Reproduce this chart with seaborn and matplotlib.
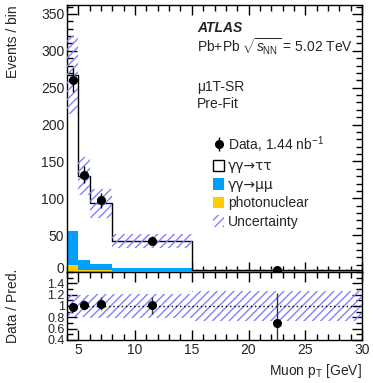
import numpy as np
import pandas as pd
import matplotlib
matplotlib.use("Agg")
import matplotlib.pyplot as plt
from matplotlib.patches import Patch
from matplotlib.ticker import MultipleLocator, FixedLocator
from matplotlib.transforms import ScaledTranslation
import seaborn as sns

# ---- data ----
bin_edges = [4, 5, 6, 8, 15, 30]
bin_centers = [4.5, 5.5, 7.0, 11.5, 22.5]
tautau = [212.0, 114.0, 82.0, 36.5, 1.0]
mumu = [45.0, 13.0, 8.0, 3.5, 0.5]
photonuclear = [10.0, 3.0, 3.0, 2.0, 1.5]
rel_unc = [0.20, 0.20, 0.21, 0.22, 0.26]
data_vals = [260.0, 132.0, 97.0, 42.5, 2.1]
data_errs = [16.0, 11.5, 10.0, 6.5, 1.6]

sns.set_theme(style="ticks")
plt.rcParams['font.family'] = ['Liberation Sans', 'DejaVu Sans']
plt.rcParams['mathtext.fontset'] = 'custom'
plt.rcParams['mathtext.rm'] = 'Liberation Sans'
plt.rcParams['mathtext.it'] = 'Liberation Sans:italic'
plt.rcParams['mathtext.bf'] = 'Liberation Sans:bold'
plt.rcParams['hatch.linewidth'] = 1.0
plt.rcParams['hatch.color'] = '#8080ff'
FS = 10

col_mumu = '#00a0ff'
col_pn = '#ffcc00'
col_hatch = '#8080ff'

edges = np.array(bin_edges, float)
total = np.array(tautau) + np.array(mumu) + np.array(photonuclear)
lo = total * (1 - np.array(rel_unc))
hi = total * (1 + np.array(rel_unc))

rows = []
for name, vals in [("tautau", tautau), ("mumu", mumu), ("pn", photonuclear)]:
    for c, v in zip(bin_centers, vals):
        rows.append({"pt": c, "w": v, "process": name})
df = pd.DataFrame(rows)

fig = plt.figure(figsize=(3.73, 3.83), dpi=100)
ax = fig.add_axes([0.1796, 0.2898, 0.791, 0.697])
rax = fig.add_axes([0.1796, 0.1123, 0.791, 0.1775], sharex=ax)

sns.histplot(data=df, x="pt", weights="w", hue="process",
             hue_order=["tautau", "mumu", "pn"], bins=list(bin_edges),
             multiple="stack", element="bars", shrink=1,
             palette={"tautau": "white", "mumu": col_mumu, "pn": col_pn},
             linewidth=0, alpha=1, legend=False, ax=ax)
sns.histplot(x=bin_centers, weights=list(total), bins=list(bin_edges), element="step",
             fill=False, color="black", linewidth=1.0, ax=ax)

ax.fill_between(edges, np.append(lo, lo[-1]), np.append(hi, hi[-1]),
                step="post", facecolor="none", edgecolor=col_hatch,
                hatch="////", linewidth=0, zorder=4)
eb = ax.errorbar(bin_centers, data_vals, yerr=data_errs, fmt='o', color='black',
                 markersize=5.5, elinewidth=1.0, capsize=0, zorder=5)

# ratio
ratio = np.array(data_vals) / total
ratio_err = np.array(data_errs) / total
rel = np.array(rel_unc)
rax.fill_between(edges, np.append(1 - rel, 1 - rel[-1]), np.append(1 + rel, 1 + rel[-1]),
                 step="post", facecolor="none", edgecolor=col_hatch,
                 hatch="////", linewidth=0, zorder=2)
rax.axhline(1.0, color='black', linestyle=(0, (1, 2)), linewidth=1.0, zorder=3)
rax.errorbar(bin_centers, ratio, yerr=ratio_err, fmt='o', color='black',
             ecolor='#333333', markersize=5.5, elinewidth=1.0, capsize=0, zorder=5)

ax.set_xlim(4, 30)
ax.set_ylim(0, 362)
rax.set_ylim(0.4, 1.6)

for a in (ax, rax):
    a.tick_params(which='both', direction='in', top=True, right=True,
                  labelsize=FS, color='black', width=1.0, pad=2)
    a.tick_params(which='major', length=7)
    a.tick_params(which='minor', length=4)
    for s in a.spines.values():
        s.set_linewidth(1.0)
        s.set_color('black')
    a.xaxis.set_major_locator(MultipleLocator(5))
    a.xaxis.set_minor_locator(MultipleLocator(1))
ax.yaxis.set_major_locator(FixedLocator([0, 50, 100, 150, 200, 250, 300, 350]))
ax.yaxis.set_minor_locator(MultipleLocator(10))
rax.yaxis.set_minor_locator(MultipleLocator(0.1))
rax.set_yticks([0.4, 0.6, 0.8, 1.0, 1.2, 1.4])
rax.set_yticklabels(["0.4", "0.6", "0.8", "1", "1.2", "1.4"])
rax.tick_params(axis='y', labelsize=9, pad=1.5)
plt.setp(ax.get_xticklabels(), visible=False)

# nudge the touching "0" label up a little
lab0 = ax.yaxis.get_major_ticks()[0].label1
lab0.set_transform(lab0.get_transform() + ScaledTranslation(0, 3.0 / 72, fig.dpi_scale_trans))

ax.set_xlabel("")
ax.set_ylabel("Events / bin", fontsize=FS, loc='top')
rax.set_ylabel("Data / Pred.", fontsize=FS)
rax.set_xlabel(r"Muon p$_{\mathrm{T}}$ [GeV]", fontsize=FS, loc='right')
ax.yaxis.set_label_coords(-0.16, 1.0)
rax.yaxis.set_label_coords(-0.16, 0.5)

ax.text(0.44, 0.914, "ATLAS", transform=ax.transAxes, fontsize=FS,
        fontweight='bold', fontstyle='italic', va='center')
ax.text(0.44, 0.846, r"Pb+Pb $\sqrt{s_{\mathrm{NN}}}$ = 5.02 TeV", transform=ax.transAxes,
        fontsize=FS, va='center')
ax.text(0.44, 0.693, "μ1T-SR", transform=ax.transAxes, fontsize=FS, va='center')
ax.text(0.44, 0.629, "Pre-Fit", transform=ax.transAxes, fontsize=FS, va='center')

handles = [eb,
           Patch(facecolor='white', edgecolor='black', linewidth=1.0),
           Patch(facecolor=col_mumu, edgecolor='none'),
           Patch(facecolor=col_pn, edgecolor='none'),
           Patch(facecolor='none', edgecolor=col_hatch, hatch='////', linewidth=0)]
labels = [r"Data, 1.44 nb$^{-1}$", "γγ→ττ", "γγ→μμ", "photonuclear", "Uncertainty"]
leg = fig.legend(handles, labels, loc='upper left', bbox_to_anchor=(0.572, 0.65),
                 frameon=False, fontsize=FS, handlelength=0.8, handleheight=0.9,
                 handletextpad=0.25, labelspacing=0.33, borderpad=0, borderaxespad=0)
for t in leg.get_texts()[1:3]:
    t.set_family(['DejaVu Sans'])

fig.savefig("out.png", dpi=100)
